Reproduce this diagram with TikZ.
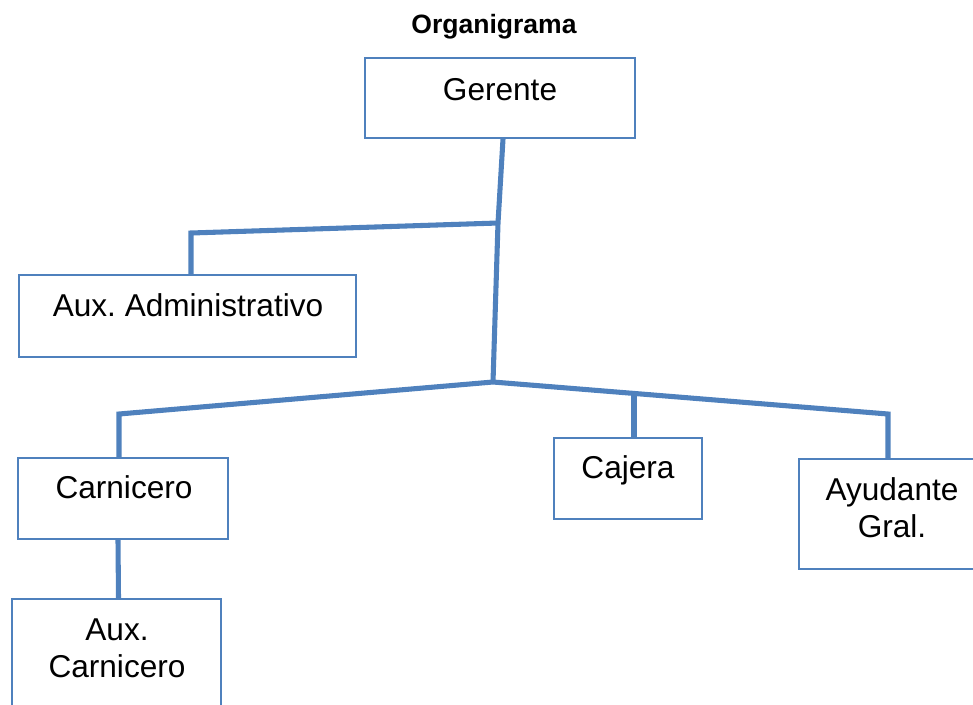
\documentclass[tikz,border=0pt]{standalone}
\usepackage{fontspec}
\setmainfont{Liberation Sans}
\usetikzlibrary{fit,calc}
\definecolor{blu}{HTML}{4F81BD}
\frenchspacing
\tikzset{
  box/.style={draw=blu, line width=1.4pt, inner sep=0pt},
  conn/.style={draw=blu, line width=3.8pt, line join=miter},
  txt/.style={inner sep=0pt, align=center, font=\fontsize{23.7}{27.75}\selectfont},
  ttl/.style={inner sep=0pt, font=\fontsize{19.9}{24}\selectfont\bfseries}
}
\begin{document}
\begin{tikzpicture}[x=0.75pt,y=-0.75pt]
\useasboundingbox (0,0) rectangle (973,704);
\clip (0,0) rectangle (973,704);
% boxes
\node[box, fit={(365,58) (635,138)}] (ger) {};
\node[box, fit={(19,275) (356,357)}] (adm) {};
\node[box, fit={(18,458) (228,539)}] (car) {};
\node[box, fit={(12,599) (221,720)}] (auxc) {};
\node[box, fit={(554,438) (702,519)}] (caj) {};
\node[box, fit={(799,459) (990,569)}] (ayu) {};
% texts
\node[ttl, anchor=base] (title) at (494,33) {Organigrama};
\node[txt, anchor=base] (tger) at (500,100) {Gerente};
\node[txt, anchor=base] (tadm) at (188,316) {Aux. Administrativo};
\node[txt, anchor=base] (tcar) at (124,498) {Carnicero};
\node[txt, anchor=base] (tauxc) at (117,677) {Aux.\\Carnicero};
\node[txt, anchor=base] (tcaj) at (628,478) {Cajera};
\node[txt, anchor=base] (tayu) at (892,537) {Ayudante\\Gral.};
% junctions
\coordinate (j1) at (498,223);
\coordinate (j2) at (493,382);
\coordinate (c1) at (191,233);
\coordinate (c2) at (119,414);
\coordinate (c4) at (888,414);
\coordinate (c5) at ($(j2)!0.357!(c4)$);
% connectors
\draw[conn] ($(ger.south)+(3,0)$) -- (j1) -- (j2);
\draw[conn] (j1) -- (c1) -- (c1 |- adm.north);
\draw[conn] (j2) -- (c2) -- (c2 |- car.north);
\draw[conn] (j2) -- (c4) -- (c4 |- ayu.north);
\draw[conn] (c5) -- (c5 |- caj.north);
\draw[conn] ($(car.south)+(-5,0)$) -- ($(auxc.north)+(2,0)$);
\end{tikzpicture}
\end{document}
